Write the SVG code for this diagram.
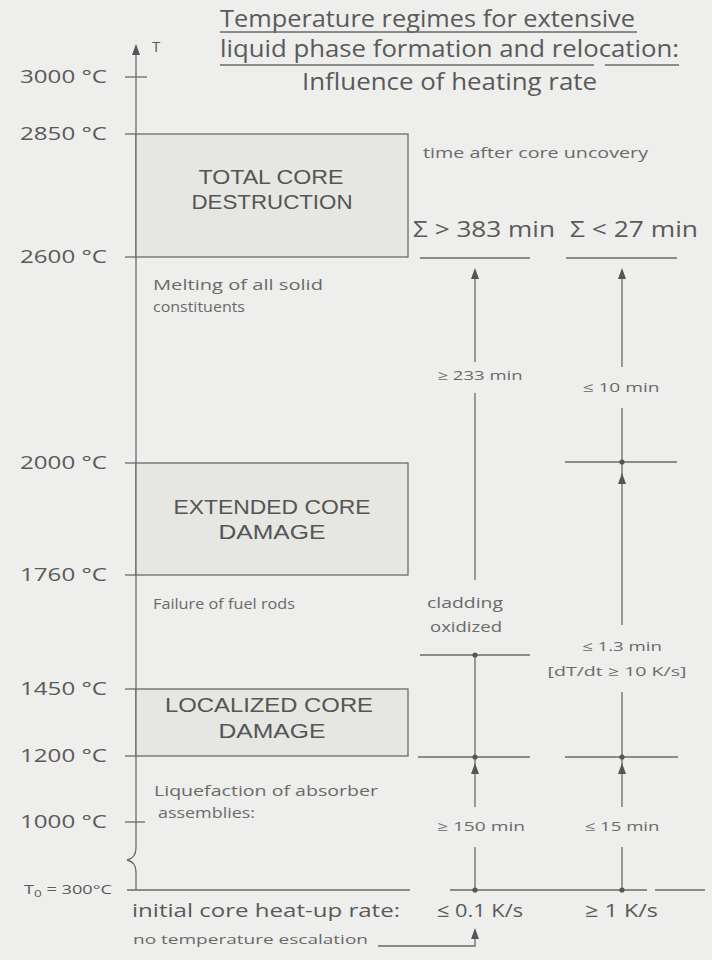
<svg xmlns="http://www.w3.org/2000/svg" width="712" height="960" viewBox="0 0 712 960">
<style>
.bg{fill:#eeeeec}
.ln{stroke:#6a6a6a;stroke-width:1.3;fill:none}
.box{fill:#e6e6e3;stroke:#6a6a6a;stroke-width:1.3}
text{font-family:"Open Sans","Noto Sans","Liberation Sans",sans-serif;fill:#5a5a5a}
.title{font-size:23px}
.ax{font-size:18px}
.big{font-family:"Liberation Sans",Arial,sans-serif;font-size:20px;text-anchor:middle;fill:#555}
.note{font-size:14px;fill:#6a6a6a}
.sm{font-size:13px;fill:#6a6a6a;text-anchor:middle}
.sig{font-size:21px;fill:#5a5a5a}
.bot{font-size:19px;fill:#5a5a5a}
.dot{fill:#555}
.ah{fill:#555}
</style>
<defs>
<path id="ah" class="ah" d="M0,0 L4,11 L-4,11 Z"/>
<circle id="dt" class="dot" r="2.6"/>
</defs>
<rect class="bg" x="0" y="0" width="712" height="960"/>

<g id="title">
<text class="title" x="220" y="27" textLength="415" lengthAdjust="spacingAndGlyphs">Temperature regimes for extensive</text>
<line class="ln" x1="220" y1="32" x2="637" y2="32"/>
<text class="title" x="220" y="57" textLength="459" lengthAdjust="spacingAndGlyphs">liquid phase formation and relocation:</text>
<line class="ln" x1="220" y1="65" x2="594" y2="65"/>
<line class="ln" x1="605" y1="65" x2="679" y2="65"/>
<text class="title" x="302" y="90" textLength="295" lengthAdjust="spacingAndGlyphs">Influence of heating rate</text>
</g>

<g id="axis">
<path class="ln" d="M136,50 V848 Q136,858 127,860 Q136,862 136,872 V890"/>
<use href="#ah" x="136" y="44"/>
<text class="ax" x="152" y="52" style="font-size:15px">T</text>
<line class="ln" x1="125" y1="77" x2="147" y2="77"/>
<line class="ln" x1="125" y1="822" x2="145" y2="822"/>
<text class="ax" x="20" y="83" textLength="87" lengthAdjust="spacingAndGlyphs">3000 °C</text>
<text class="ax" x="20" y="140" textLength="87" lengthAdjust="spacingAndGlyphs">2850 °C</text>
<text class="ax" x="20" y="263" textLength="87" lengthAdjust="spacingAndGlyphs">2600 °C</text>
<text class="ax" x="20" y="469" textLength="87" lengthAdjust="spacingAndGlyphs">2000 °C</text>
<text class="ax" x="20" y="581" textLength="87" lengthAdjust="spacingAndGlyphs">1760 °C</text>
<text class="ax" x="20" y="695" textLength="87" lengthAdjust="spacingAndGlyphs">1450 °C</text>
<text class="ax" x="20" y="762" textLength="87" lengthAdjust="spacingAndGlyphs">1200 °C</text>
<text class="ax" x="20" y="828" textLength="87" lengthAdjust="spacingAndGlyphs">1000 °C</text>
<text x="24" y="894" style="font-size:12px" textLength="88" lengthAdjust="spacingAndGlyphs">T<tspan dy="3" style="font-size:9px">0</tspan><tspan dy="-3"> = 300°C</tspan></text>
</g>

<g id="box-total">
<line class="ln" x1="125" y1="134" x2="136" y2="134"/>
<line class="ln" x1="125" y1="257" x2="136" y2="257"/>
<rect class="box" x="136" y="134" width="272" height="123"/>
<text class="big" x="271" y="184" textLength="145" lengthAdjust="spacingAndGlyphs">TOTAL CORE</text>
<text class="big" x="272" y="209" textLength="161" lengthAdjust="spacingAndGlyphs">DESTRUCTION</text>
</g>

<g id="box-extended">
<line class="ln" x1="125" y1="463" x2="136" y2="463"/>
<line class="ln" x1="125" y1="575" x2="136" y2="575"/>
<rect class="box" x="136" y="463" width="272" height="112"/>
<text class="big" x="272" y="514" textLength="197" lengthAdjust="spacingAndGlyphs">EXTENDED CORE</text>
<text class="big" x="272" y="539" textLength="107" lengthAdjust="spacingAndGlyphs">DAMAGE</text>
</g>

<g id="box-localized">
<line class="ln" x1="125" y1="689" x2="136" y2="689"/>
<line class="ln" x1="125" y1="756" x2="136" y2="756"/>
<rect class="box" x="136" y="689" width="272" height="67"/>
<text class="big" x="269" y="712" textLength="208" lengthAdjust="spacingAndGlyphs">LOCALIZED CORE</text>
<text class="big" x="272" y="738" textLength="107" lengthAdjust="spacingAndGlyphs">DAMAGE</text>
</g>

<g id="notes">
<text class="note" x="153" y="290" textLength="170" lengthAdjust="spacingAndGlyphs">Melting of all solid</text>
<text class="note" x="153" y="312" textLength="92" lengthAdjust="spacingAndGlyphs">constituents</text>
<text class="note" x="153" y="609" textLength="142" lengthAdjust="spacingAndGlyphs">Failure of fuel rods</text>
<text class="note" x="154" y="796" textLength="224" lengthAdjust="spacingAndGlyphs">Liquefaction of absorber</text>
<text class="note" x="158" y="818" textLength="97" lengthAdjust="spacingAndGlyphs">assemblies:</text>
<text class="note" x="423" y="158" textLength="225" lengthAdjust="spacingAndGlyphs">time after core uncovery</text>
</g>

<g id="column-slow">
<text class="sig" x="413" y="237" textLength="142" lengthAdjust="spacingAndGlyphs">Σ &gt; 383 min</text>
<line class="ln" x1="420" y1="258" x2="530" y2="258"/>
<text class="sm" x="480" y="380" textLength="85" lengthAdjust="spacingAndGlyphs">≥ 233 min</text>
<text class="sm" x="465" y="608" style="font-size:15px" textLength="76" lengthAdjust="spacingAndGlyphs">cladding</text>
<text class="sm" x="466" y="632" style="font-size:15px" textLength="72" lengthAdjust="spacingAndGlyphs">oxidized</text>
<line class="ln" x1="420" y1="655" x2="530" y2="655"/>
<line class="ln" x1="418" y1="757" x2="530" y2="757"/>
<text class="sm" x="481" y="831" textLength="88" lengthAdjust="spacingAndGlyphs">≥ 150 min</text>
</g>

<g id="column-fast">
<text class="sig" x="570" y="237" textLength="128" lengthAdjust="spacingAndGlyphs">Σ &lt; 27 min</text>
<line class="ln" x1="566" y1="258" x2="677" y2="258"/>
<text class="sm" x="621" y="392" textLength="77" lengthAdjust="spacingAndGlyphs">≤ 10 min</text>
<line class="ln" x1="565" y1="462" x2="677" y2="462"/>
<text class="sm" x="622" y="651" textLength="80" lengthAdjust="spacingAndGlyphs">≤ 1.3 min</text>
<text class="sm" x="617" y="676" textLength="139" lengthAdjust="spacingAndGlyphs">[dT/dt ≥ 10 K/s]</text>
<line class="ln" x1="565" y1="757" x2="678" y2="757"/>
<text class="sm" x="622" y="831" textLength="75" lengthAdjust="spacingAndGlyphs">≤ 15 min</text>
</g>

<g id="baseline">
<line class="ln" x1="127" y1="890" x2="410" y2="890"/>
<line class="ln" x1="450" y1="890" x2="647" y2="890"/>
<line class="ln" x1="655" y1="890" x2="705" y2="890"/>
<text class="bot" x="132" y="917" textLength="268" lengthAdjust="spacingAndGlyphs">initial core heat-up rate:</text>
<text class="bot" x="437" y="917" textLength="86" lengthAdjust="spacingAndGlyphs">≤ 0.1 K/s</text>
<text class="bot" x="585" y="917" textLength="73" lengthAdjust="spacingAndGlyphs">≥ 1 K/s</text>
<text class="note" x="133" y="944" style="font-size:13px" textLength="235" lengthAdjust="spacingAndGlyphs">no temperature escalation</text>
</g>

<g id="connectors">
<line class="ln" x1="475" y1="274" x2="475" y2="362"/>
<use href="#ah" x="475" y="268"/>
<line class="ln" x1="475" y1="393" x2="475" y2="580"/>
<line class="ln" x1="475" y1="655" x2="475" y2="807"/>
<use href="#ah" x="475" y="763"/>
<line class="ln" x1="475" y1="847" x2="475" y2="890"/>
<line class="ln" x1="622" y1="274" x2="622" y2="367"/>
<use href="#ah" x="622" y="268"/>
<line class="ln" x1="622" y1="408" x2="622" y2="625"/>
<use href="#ah" x="622" y="473"/>
<line class="ln" x1="622" y1="692" x2="622" y2="807"/>
<use href="#ah" x="622" y="763"/>
<line class="ln" x1="622" y1="847" x2="622" y2="890"/>
<path class="ln" d="M378,946 H475 V936"/>
<use href="#ah" x="475" y="928"/>
<use href="#dt" x="475" y="655"/>
<use href="#dt" x="475" y="757"/>
<use href="#dt" x="622" y="462"/>
<use href="#dt" x="622" y="757"/>
<use href="#dt" x="475" y="890"/>
<use href="#dt" x="622" y="890"/>
</g>
</svg>
